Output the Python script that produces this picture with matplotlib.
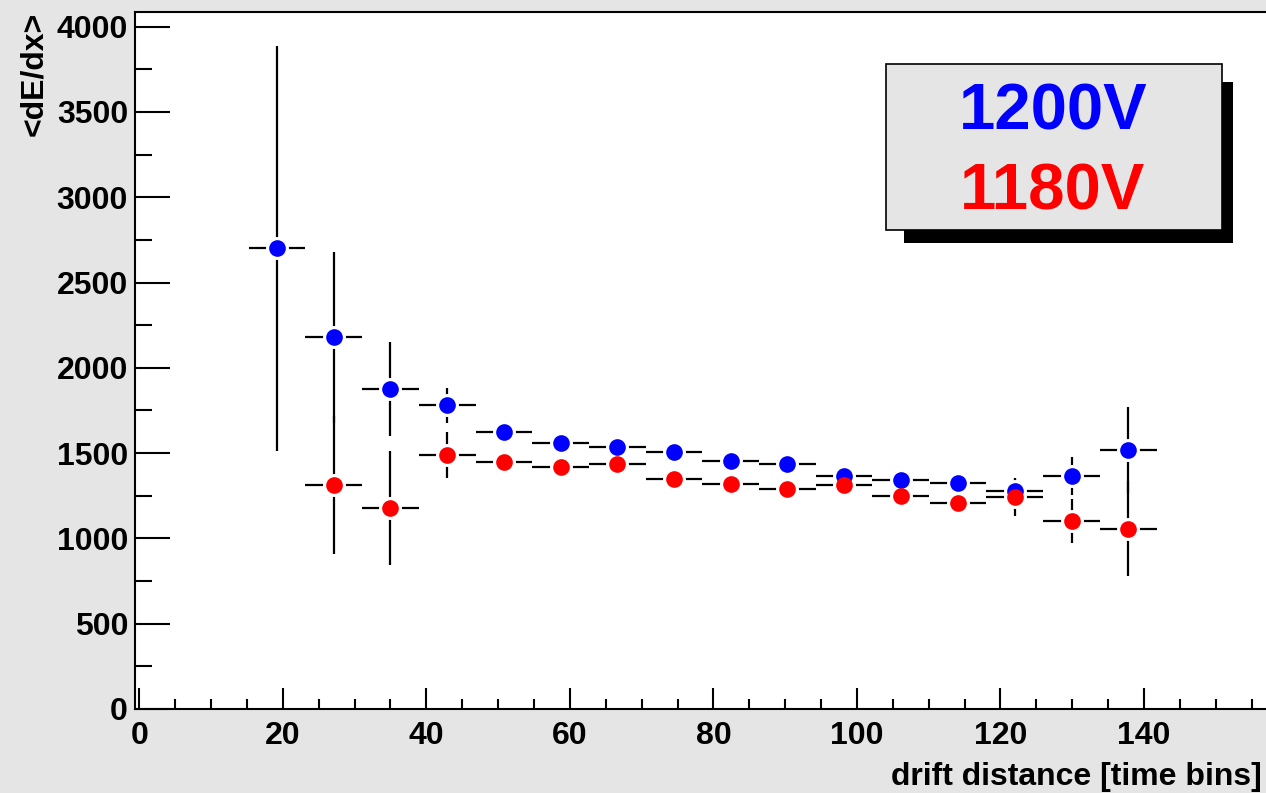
import matplotlib
matplotlib.use("Agg")
import matplotlib.pyplot as plt
from matplotlib.patches import Rectangle
from matplotlib.ticker import MultipleLocator

plt.rcParams['font.family'] = ['Liberation Sans', 'DejaVu Sans']
plt.rcParams['font.weight'] = 'bold'

# drift distance bin centres
x_blue = [19.2, 27.1, 35.0, 42.9, 50.8, 58.7, 66.6, 74.5, 82.4, 90.3, 98.2, 106.1, 114.1, 122.0, 129.9, 137.8]
x_red = x_blue[1:]
half_bin = 3.95

# <dE/dx> for 1200V
y_blue = [2702, 2179, 1878, 1780, 1622, 1561, 1538, 1505, 1455, 1434, 1366, 1340, 1323, 1278, 1366, 1518]
e_blue = [1187, 502, 276, 103, 60, 55, 55, 55, 55, 55, 50, 55, 60, 75, 109, 254]

# <dE/dx> for 1180V
y_red = [1311, 1180, 1487, 1448, 1417, 1436, 1346, 1319, 1288, 1311, 1249, 1209, 1241, 1100, 1057]
e_red = [404, 335, 135, 60, 55, 55, 55, 55, 55, 50, 55, 60, 110, 129, 277]

bg = '#e5e5e5'
fig = plt.figure(figsize=(12.66, 7.93), dpi=100, facecolor=bg)
ax = fig.add_axes([135 / 1266, 1 - 709 / 793, 1 - 135 / 1266, (709 - 12) / 793])
ax.set_facecolor('white')

for xs, ys, es in [(x_blue, y_blue, e_blue), (x_red, y_red, e_red)]:
    ax.errorbar(xs, ys, xerr=half_bin, yerr=es, fmt='none', ecolor='black',
                elinewidth=1.6, capsize=0, zorder=1)
for xs, ys in [(x_blue, y_blue), (x_red, y_red)]:
    ax.plot(xs, ys, 'o', ms=16.5, color='white', mew=0, zorder=2)
ax.plot(x_blue, y_blue, 'o', ms=12, color='#0000ff', mew=0, zorder=3)
ax.plot(x_red, y_red, 'o', ms=12, color='#ff0000', mew=0, zorder=3)

ax.set_xlim(-0.6, 157.0)
ax.set_ylim(0, 4086)
ax.xaxis.set_major_locator(MultipleLocator(20))
ax.xaxis.set_minor_locator(MultipleLocator(5))
ax.yaxis.set_major_locator(MultipleLocator(500))
ax.yaxis.set_minor_locator(MultipleLocator(250))
ax.tick_params(which='both', direction='in', width=1.5, labelsize=23)
ax.tick_params(axis='x', which='major', length=15, pad=9)
ax.tick_params(axis='x', which='minor', length=7.5)
ax.tick_params(axis='y', which='major', length=25, pad=5)
ax.tick_params(axis='y', which='minor', length=12.5)
for s in ['left', 'bottom', 'top']:
    ax.spines[s].set_linewidth(1.5)
ax.spines['right'].set_visible(False)

fig.text(1262 / 1266, 1 - 777 / 793, 'drift distance [time bins]', ha='right', va='center',
         fontsize=23, fontweight='bold')
fig.text(34 / 1266, 1 - 12 / 793, '<dE/dx>', ha='center', va='top', rotation=90,
         fontsize=23, fontweight='bold')

# legend box with shadow
W, H = 1266, 793
fig.add_artist(Rectangle((904 / W, 1 - 243 / H), (1233 - 904) / W, (243 - 82) / H,
                         transform=fig.transFigure, facecolor='black', edgecolor='none'))
fig.add_artist(Rectangle((886 / W, 1 - 230 / H), (1222 - 886) / W, (230 - 64) / H,
                         transform=fig.transFigure, facecolor=bg, edgecolor='black', linewidth=1.2))
fig.text(1053 / W, 1 - 112 / H, '1200V', color='#0000ff', ha='center', va='center',
         fontsize=47, fontweight='bold')
fig.text(1053 / W, 1 - 193 / H, '1180V', color='#ff0000', ha='center', va='center',
         fontsize=47, fontweight='bold')

fig.savefig('out.png', dpi=100, facecolor=bg)
